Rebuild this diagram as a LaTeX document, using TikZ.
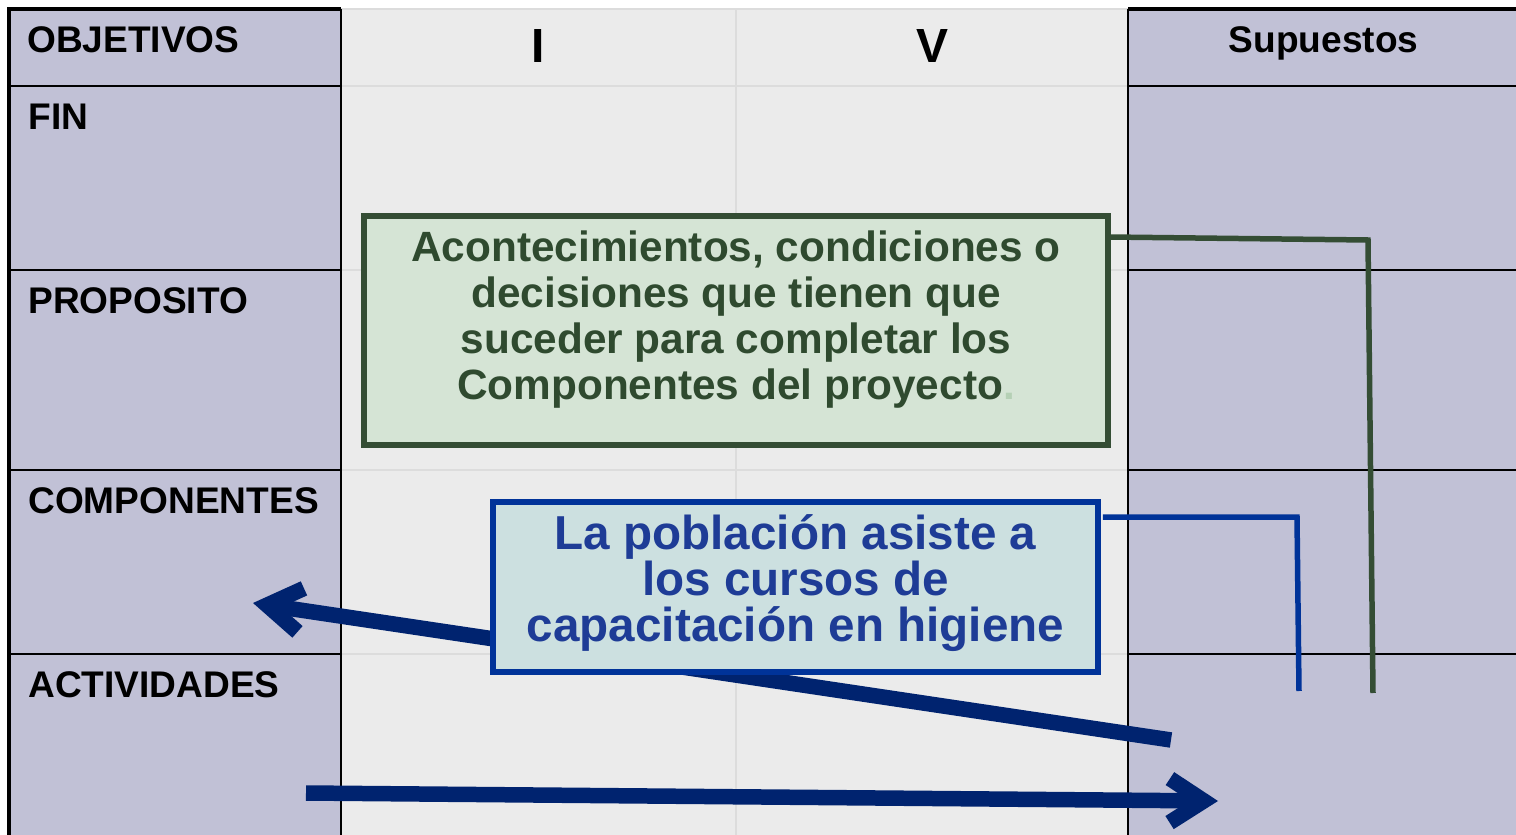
\documentclass[tikz,border=0pt]{standalone}
\usepackage{fontspec}
\setmainfont{Liberation Sans}
\usetikzlibrary{arrows.meta}
\lineskiplimit=-100pt
\definecolor{lav}{HTML}{C1C1D6}
\definecolor{midfill}{HTML}{EBEBEB}
\definecolor{midline}{HTML}{DCDCDC}
\definecolor{gborder}{HTML}{344D34}
\definecolor{gfill}{HTML}{D5E4D5}
\definecolor{gtextc}{HTML}{2F4A2F}
\definecolor{gdot}{HTML}{B5D0B5}
\definecolor{bborder}{HTML}{003399}
\definecolor{bfill}{HTML}{CCE0E0}
\definecolor{btextc}{HTML}{1E3C96}
\definecolor{navy}{HTML}{00236F}
\tikzset{
  lbl/.style={font=\bfseries\fontsize{21.1}{24}\selectfont, inner sep=0pt, anchor=base west},
  colhdr/.style={font=\bfseries\fontsize{27.3}{30}\selectfont, inner sep=0pt, anchor=base},
  suphdr/.style={font=\bfseries\fontsize{21.1}{24}\selectfont, inner sep=0pt, anchor=base},
  blackln/.style={draw=black, line width=0.045cm},
  outerln/.style={draw=black, line width=0.065cm},
  greyln/.style={draw=midline, line width=0.04cm},
  gboxst/.style={draw=gborder, fill=gfill, line width=0.12cm, minimum width=14.88cm, minimum height=4.59cm, inner sep=0pt},
  bboxst/.style={draw=bborder, fill=bfill, line width=0.12cm, minimum width=12.1cm, minimum height=3.4cm, inner sep=0pt},
  gtextst/.style={text=gtextc, align=center, inner sep=0pt, font=\bfseries\fontsize{24.1}{26.2}\selectfont},
  btextst/.style={text=btextc, align=center, inner sep=0pt, font=\bfseries\fontsize{27.1}{26.2}\selectfont},
  gconn/.style={draw=gborder, line width=0.11cm, line join=miter},
  bconn/.style={draw=bborder, line width=0.11cm, line join=miter},
  bigarrow/.style={draw=navy, line width=0.31cm, -{Straight Barb[length=0.68cm, width=0.88cm]}}
}
\begin{document}
\begin{tikzpicture}[x=0.02cm, y=-0.02cm]
\useasboundingbox (0,0) rectangle (1516,835);
\clip (0,0) rectangle (1516,835);
\fill[white] (0,0) rectangle (1516,835);
% column fills
\fill[lav] (9,9) rectangle (341,840);
\fill[midfill] (341,9) rectangle (1128,840);
\fill[lav] (1128,9) rectangle (1520,840);
% light grid in middle
\foreach \yy in {9,86,270,470,654} \draw[greyln] (341,\yy) -- (1128,\yy);
\draw[greyln] (736,9) -- (736,840);
% black grid lines
\foreach \yy in {86,270,470,654} {
  \draw[blackln] (9,\yy) -- (341,\yy);
  \draw[blackln] (1128,\yy) -- (1520,\yy);
}
\draw[blackln] (341,9) -- (341,840);
\draw[blackln] (1128,9) -- (1128,840);
\draw[outerln] (9,840) -- (9,9) -- (341,9);
\draw[outerln] (1128,9) -- (1520,9);
% labels
\node[lbl] (objetivos) at (27,52) {OBJETIVOS};
\node[lbl] (fin) at (28,129.5) {FIN};
\node[lbl] (proposito) at (28,313.5) {PROPOSITO};
\node[lbl] (componentes) at (28,513.5) {COMPONENTES};
\node[lbl] (actividades) at (28,697.5) {ACTIVIDADES};
\node[colhdr] (hI) at (538.5,62) {I};
\node[colhdr] (hV) at (932,62) {V};
\node[suphdr] (supuestos) at (1323.5,52) {Supuestos};
% big arrows
\coordinate (a1s) at (1171,740);
\coordinate (a1e) at (253,603);
\coordinate (a2s) at (306,793);
\coordinate (a2e) at (1218,801);
\draw[bigarrow] (a1s) -- (a1e);
\draw[bigarrow] (a2s) -- (a2e);
% boxes
\node[gboxst] (gbox) at (736,330.75) {};
\node[gtextst] (gtext) at (736,320) {Acontecimientos, condiciones o\\decisiones que tienen que\\suceder para completar los\\Componentes del proyecto{\color{gdot}.}};
\node[bboxst] (bbox) at (795.5,587) {};
\node[btextst] (btext) at (795.5,583) {La población asiste a\\los cursos de\\capacitación en higiene};
% connectors
\coordinate (g1) at (1368,240);
\coordinate (g2) at (1373,693);
\draw[gconn] ([yshift=-0.48cm]gbox.north east) -- (g1) -- (g2);
\coordinate (b1) at (1297,517);
\coordinate (b2) at (1299,691);
\draw[bconn] ([xshift=0.04cm,yshift=-0.36cm]bbox.north east) -- (b1) -- (b2);
\end{tikzpicture}
\end{document}
